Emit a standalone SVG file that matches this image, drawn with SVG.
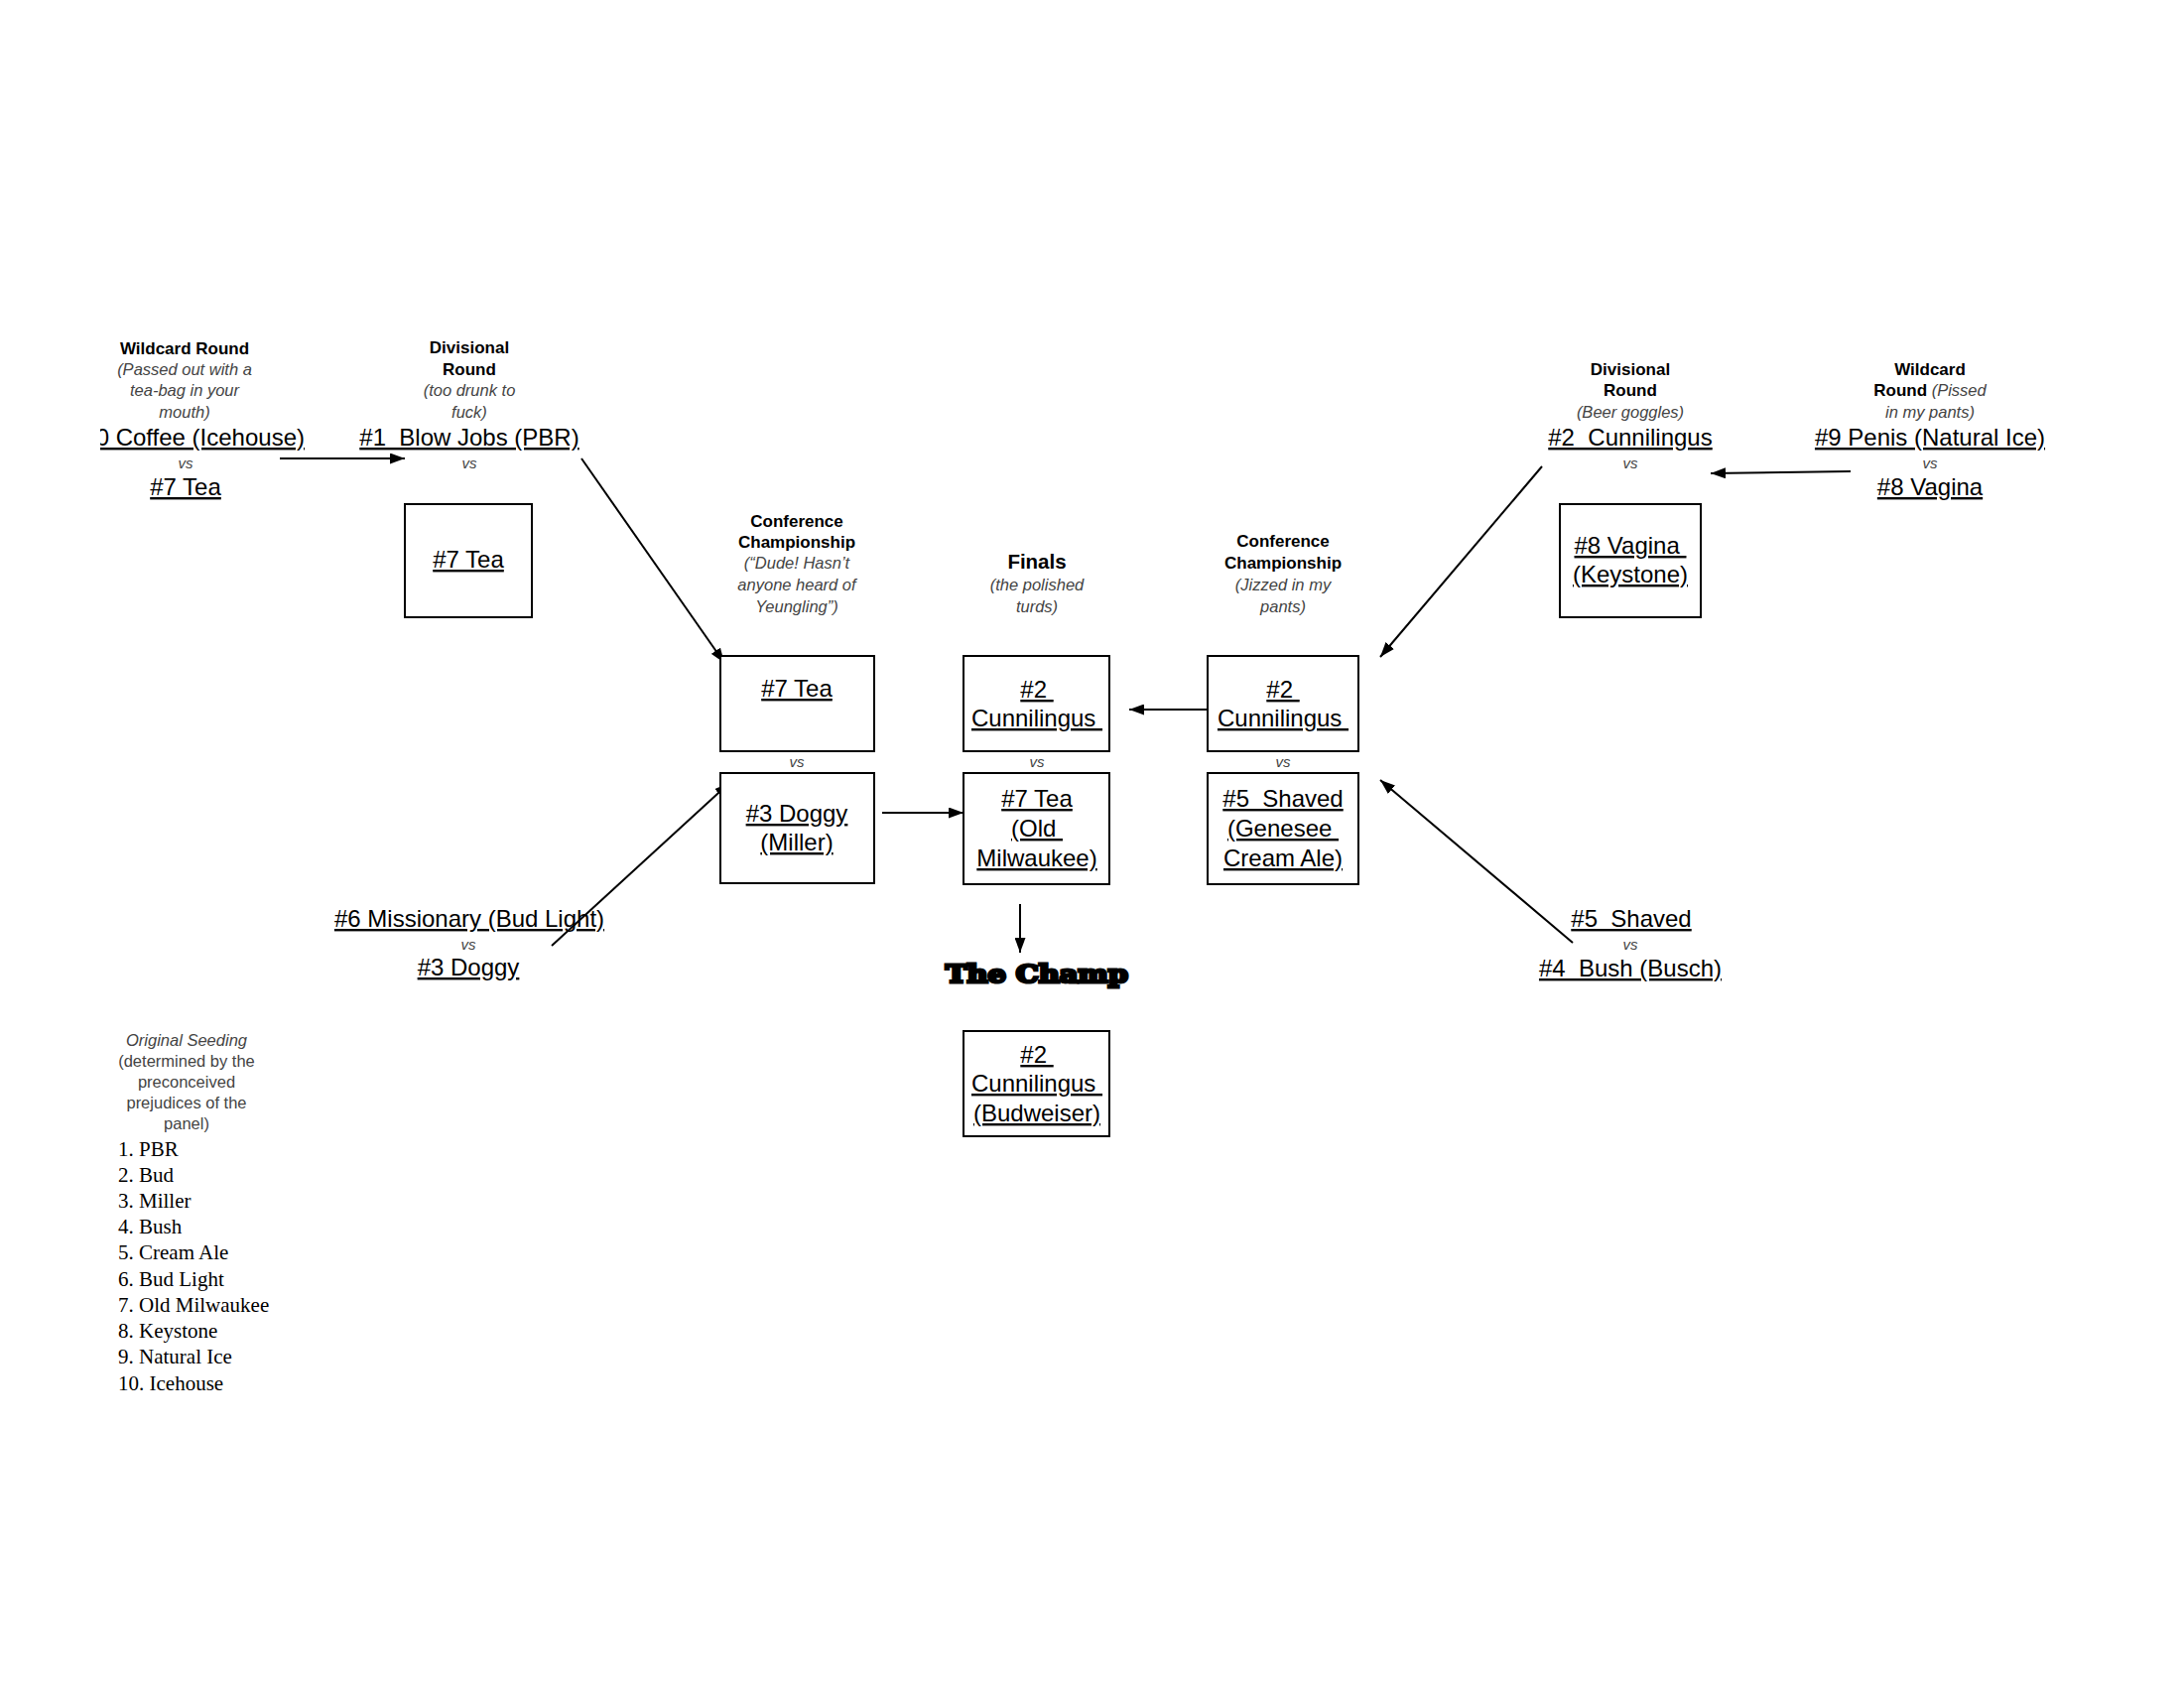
<svg xmlns="http://www.w3.org/2000/svg" width="2201" height="1701" viewBox="0 0 2201 1701">
<style>
text{font-family:"Liberation Sans",Arial,sans-serif;text-anchor:middle;fill:#000;white-space:pre}
.hdr{font-weight:bold;font-size:17px}
.fin{font-weight:bold;font-size:20.5px}
.it{font-style:italic;font-size:16.5px;fill:#444}
.rg{font-size:16.5px;fill:#444}
.vs{font-style:italic;font-size:15px;fill:#444}
.big{font-size:24px;text-decoration:underline;text-decoration-skip-ink:none}
.seed{font-family:"Liberation Serif","Times New Roman",serif;font-size:21px;text-anchor:start}
.box{fill:#fff;stroke:#000;stroke-width:2}
.conn{stroke:#000;stroke-width:2;fill:none;marker-end:url(#ah)}
.champ{font-family:"DejaVu Serif",serif;font-weight:bold;font-size:24px;stroke:#000;stroke-width:3}
</style>
<defs>
<marker id="ah" markerUnits="userSpaceOnUse" markerWidth="15" markerHeight="11" refX="15" refY="5.5" orient="auto"><path d="M0,0 L15,5.5 L0,11 z" fill="#000"/></marker>
<clipPath id="clipL"><rect x="101" y="420" width="300" height="50"/></clipPath>
</defs>
<rect width="2201" height="1701" fill="#fff"/>

<g id="connectors">
<line class="conn" x1="282" y1="462" x2="408" y2="462"/>
<line class="conn" x1="586" y1="462" x2="730" y2="668"/>
<line class="conn" x1="556" y1="953" x2="735" y2="789"/>
<line class="conn" x1="889" y1="819" x2="971" y2="819"/>
<line class="conn" x1="1217" y1="715" x2="1138" y2="715"/>
<line class="conn" x1="1554" y1="470" x2="1391" y2="662"/>
<line class="conn" x1="1865" y1="475" x2="1724" y2="477"/>
<line class="conn" x1="1585" y1="950" x2="1391" y2="786"/>
<line class="conn" x1="1028" y1="911" x2="1028" y2="960"/>
</g>

<g id="wildcard-left">
<text class="hdr" x="186" y="357">Wildcard Round</text>
<text class="it" x="186" y="378">(Passed out with a</text>
<text class="it" x="186" y="399">tea-bag in your</text>
<text class="it" x="186" y="421">mouth)</text>
<text class="big" x="307" y="449" clip-path="url(#clipL)" style="text-anchor:end">#10 Coffee (Icehouse)</text>
<text class="vs" x="187" y="472">vs</text>
<text class="big" x="187" y="499">#7 Tea</text>
</g>

<g id="divisional-left">
<text class="hdr" x="473" y="356">Divisional</text>
<text class="hdr" x="473" y="378">Round</text>
<text class="it" x="473" y="399">(too drunk to</text>
<text class="it" x="473" y="421">fuck)</text>
<text class="big" x="473" y="449" xml:space="preserve">#1  Blow Jobs (PBR)</text>
<text class="vs" x="473" y="472">vs</text>
</g>
<g id="div-left-box">
<rect class="box" x="408" y="508" width="128" height="114"/>
<text class="big" x="472" y="572">#7 Tea</text>
</g>

<g id="wildcard-left-bottom">
<text class="big" x="473" y="934">#6 Missionary (Bud Light)</text>
<text class="vs" x="472" y="957">vs</text>
<text class="big" x="472" y="983">#3 Doggy</text>
</g>

<g id="conference-left">
<text class="hdr" x="803" y="531">Conference</text>
<text class="hdr" x="803" y="552">Championship</text>
<text class="it" x="803" y="573">(“Dude! Hasn’t</text>
<text class="it" x="803" y="595">anyone heard of</text>
<text class="it" x="803" y="617">Yeungling”)</text>
</g>
<g id="cc-left-top">
<rect class="box" x="726" y="661" width="155" height="96"/>
<text class="big" x="803" y="702">#7 Tea</text>
</g>
<text class="vs" x="803" y="773">vs</text>
<g id="cc-left-bottom">
<rect class="box" x="726" y="779" width="155" height="111"/>
<text class="big" x="803" y="828">#3 Doggy</text>
<text class="big" x="803" y="857">(Miller)</text>
</g>

<g id="finals">
<text class="fin" x="1045" y="573">Finals</text>
<text class="it" x="1045" y="595">(the polished</text>
<text class="it" x="1045" y="617">turds)</text>
</g>
<g id="finals-top">
<rect class="box" x="971" y="661" width="147" height="96"/>
<text class="big" x="1045" y="703" xml:space="preserve">#2 </text>
<text class="big" x="1045" y="732" xml:space="preserve">Cunnilingus </text>
</g>
<text class="vs" x="1045" y="773">vs</text>
<g id="finals-bottom">
<rect class="box" x="971" y="779" width="147" height="112"/>
<text class="big" x="1045" y="813">#7 Tea</text>
<text class="big" x="1045" y="843" xml:space="preserve">(Old </text>
<text class="big" x="1045" y="873">Milwaukee)</text>
</g>

<g id="champ">
<text class="champ" x="953" y="990" textLength="184" lengthAdjust="spacingAndGlyphs" style="text-anchor:start">The Champ</text>
</g>
<g id="champ-box">
<rect class="box" x="971" y="1039" width="147" height="106"/>
<text class="big" x="1045" y="1071" xml:space="preserve">#2 </text>
<text class="big" x="1045" y="1100" xml:space="preserve">Cunnilingus </text>
<text class="big" x="1045" y="1130">(Budweiser)</text>
</g>

<g id="conference-right">
<text class="hdr" x="1293" y="551">Conference</text>
<text class="hdr" x="1293" y="573">Championship</text>
<text class="it" x="1293" y="595">(Jizzed in my</text>
<text class="it" x="1293" y="617">pants)</text>
</g>
<g id="cc-right-top">
<rect class="box" x="1217" y="661" width="152" height="96"/>
<text class="big" x="1293" y="703" xml:space="preserve">#2 </text>
<text class="big" x="1293" y="732" xml:space="preserve">Cunnilingus </text>
</g>
<text class="vs" x="1293" y="773">vs</text>
<g id="cc-right-bottom">
<rect class="box" x="1217" y="779" width="152" height="112"/>
<text class="big" x="1293" y="813" xml:space="preserve">#5  Shaved</text>
<text class="big" x="1293" y="843" xml:space="preserve">(Genesee </text>
<text class="big" x="1293" y="873">Cream Ale)</text>
</g>

<g id="divisional-right">
<text class="hdr" x="1643" y="378">Divisional</text>
<text class="hdr" x="1643" y="399">Round</text>
<text class="it" x="1643" y="421">(Beer goggles)</text>
<text class="big" x="1643" y="449" xml:space="preserve">#2  Cunnilingus</text>
<text class="vs" x="1643" y="472">vs</text>
</g>
<g id="div-right-box">
<rect class="box" x="1572" y="508" width="142" height="114"/>
<text class="big" x="1643" y="558" xml:space="preserve">#8 Vagina </text>
<text class="big" x="1643" y="587">(Keystone)</text>
</g>

<g id="wildcard-right">
<text class="hdr" x="1945" y="378">Wildcard</text>
<text x="1945" y="399"><tspan class="hdr">Round</tspan><tspan class="it"> (Pissed</tspan></text>
<text class="it" x="1945" y="421">in my pants)</text>
<text class="big" x="1945" y="449">#9 Penis (Natural Ice)</text>
<text class="vs" x="1945" y="472">vs</text>
<text class="big" x="1945" y="499">#8 Vagina</text>
</g>

<g id="wildcard-right-bottom">
<text class="big" x="1644" y="934" xml:space="preserve">#5  Shaved</text>
<text class="vs" x="1643" y="957">vs</text>
<text class="big" x="1643" y="984" xml:space="preserve">#4  Bush (Busch)</text>
</g>

<g id="seeding">
<text class="it" x="188" y="1054">Original Seeding</text>
<text class="rg" x="188" y="1075">(determined by the</text>
<text class="rg" x="188" y="1096">preconceived</text>
<text class="rg" x="188" y="1117">prejudices of the</text>
<text class="rg" x="188" y="1138">panel)</text>
<text class="seed" x="119" y="1165">1. PBR</text>
<text class="seed" x="119" y="1191">2. Bud</text>
<text class="seed" x="119" y="1217">3. Miller</text>
<text class="seed" x="119" y="1243">4. Bush</text>
<text class="seed" x="119" y="1269">5. Cream Ale</text>
<text class="seed" x="119" y="1296">6. Bud Light</text>
<text class="seed" x="119" y="1322">7. Old Milwaukee</text>
<text class="seed" x="119" y="1348">8. Keystone</text>
<text class="seed" x="119" y="1374">9. Natural Ice</text>
<text class="seed" x="119" y="1401">10. Icehouse</text>
</g>
</svg>
